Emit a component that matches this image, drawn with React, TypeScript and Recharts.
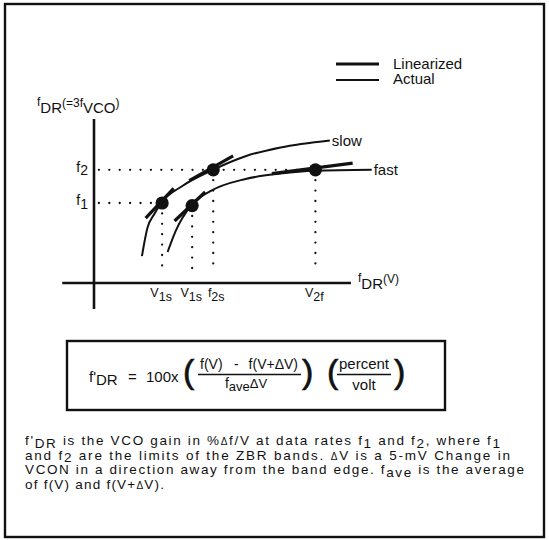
import type { ReactElement } from 'react';
import {
  ComposedChart,
  Line,
  ReferenceDot,
  ReferenceLine,
  Scatter,
  XAxis,
  YAxis,
} from 'recharts';

// Actual transfer curves (control voltage, data rate)
const slowCurve = [
  { x: 1.66, y: 1.34 },
  { x: 1.85, y: 2.75 },
  { x: 2.09, y: 3.45 },
  { x: 2.31, y: 3.97 },
  { x: 3.06, y: 4.85 },
  { x: 4.12, y: 5.66 },
  { x: 5.25, y: 6.34 },
  { x: 6.46, y: 6.78 },
  { x: 8.17, y: 7.13 },
];

const fastCurve = [
  { x: 2.55, y: 1.55 },
  { x: 2.82, y: 2.57 },
  { x: 3.36, y: 3.87 },
  { x: 4.03, y: 4.59 },
  { x: 5.25, y: 5.2 },
  { x: 6.46, y: 5.47 },
  { x: 7.64, y: 5.61 },
  { x: 9.62, y: 5.66 },
];

// Linearized segments at each band edge
const slowTangentLow = [
  { x: 1.79, y: 3.24 },
  { x: 2.76, y: 4.73 },
];
const slowTangentHigh = [
  { x: 3.3, y: 5.12 },
  { x: 4.82, y: 6.36 },
];
const fastTangentLow = [
  { x: 2.79, y: 3.1 },
  { x: 3.85, y: 4.55 },
];
const fastTangentHigh = [
  { x: 6.16, y: 5.47 },
  { x: 8.96, y: 5.99 },
];
const tangents = [slowTangentLow, slowTangentHigh, fastTangentLow, fastTangentHigh];

const operatingPoints = [
  { x: 2.36, y: 4.0 },
  { x: 3.4, y: 3.87 },
  { x: 4.13, y: 5.66 },
  { x: 7.67, y: 5.66 },
];

const vTickValues = [2.36, 3.4, 4.13, 7.67];
const vTickLabels = [
  ['V', '1s'],
  ['V', '1s'],
  ['f', '2s'],
  ['V', '2f'],
];
const fTickValues = [4.0, 5.66];
const fTickLabels = [
  ['f', '1'],
  ['f', '2'],
];

const curveNames = ['slow', 'fast'];
const legendLabels = ['Linearized', 'Actual'];

const xAxisSpan = [-1.1, 8.9];
const yAxisSpan = [-1.3, 8.2];
const guideStart = 0.17;
const guideFloor = 0.5;

const FONT = "'Liberation Sans', Arial, Helvetica, sans-serif";
const INK = '#111';

function VTick(props: any): ReactElement {
  const i = vTickValues.indexOf(Number(props.payload?.value));
  const [main, sub] = vTickLabels[i] ?? ['', ''];
  // the f-label sits just right of its guide in the drawing
  const shift = main === 'f' ? 3 : -1;
  return (
    <text
      x={props.x + shift}
      y={props.y}
      textAnchor="middle"
      fontFamily={FONT}
      fontSize={12.5}
      fill={INK}
    >
      <tspan>{main}</tspan>
      <tspan dy={4.5}>{sub}</tspan>
    </text>
  );
}

function FTick(props: any): ReactElement {
  const i = fTickValues.indexOf(Number(props.payload?.value));
  const [main, sub] = fTickLabels[i] ?? ['', ''];
  return (
    <text x={props.x} y={props.y + 2} textAnchor="end" fontFamily={FONT} fontSize={14} fill={INK}>
      <tspan>{main}</tspan>
      <tspan dy={3.5}>{sub}</tspan>
    </text>
  );
}

function Dot(props: any): ReactElement {
  return <circle cx={props.cx} cy={props.cy} r={6.6} fill={INK} />;
}

const dotted = {
  stroke: INK,
  strokeWidth: 2.3,
  strokeDasharray: '0 10.4',
  strokeLinecap: 'round' as const,
  ifOverflow: 'visible' as const,
};

const parenStyle = { fontSize: 34, stroke: INK, strokeWidth: 0.7 };

function Overlay(): ReactElement {
  return (
    <svg
      width={549}
      height={540}
      style={{ position: 'absolute', left: 0, top: 0, pointerEvents: 'none' }}
      fontFamily={FONT}
      fill={INK}
    >
      <rect x={5} y={4} width={539} height={533} fill="none" stroke={INK} strokeWidth={2.4} />

      {/* legend */}
      <line x1={336} x2={379} y1={64} y2={64} stroke={INK} strokeWidth={3.2} />
      <line x1={336} x2={379} y1={80} y2={80} stroke={INK} strokeWidth={2} />
      <text x={393} y={69} fontSize={15}>{legendLabels[0]}</text>
      <text x={393} y={84} fontSize={15}>{legendLabels[1]}</text>

      {/* axis titles */}
      <text x={37} y={106}>
        <tspan fontSize={12}>f</tspan>
        <tspan fontSize={15} dy={6.5}>DR</tspan>
        <tspan fontSize={12} dy={-5.5}>(=3f</tspan>
        <tspan fontSize={15} dy={5.5}>VCO</tspan>
        <tspan fontSize={12} dy={-5.5}>)</tspan>
      </text>
      <text x={358} y={282}>
        <tspan fontSize={12}>f</tspan>
        <tspan fontSize={15} dy={6.5}>DR</tspan>
        <tspan fontSize={12} dy={-6}>(V)</tspan>
      </text>

      {/* formula box */}
      <rect x={67} y={341} width={378} height={69} fill="none" stroke={INK} strokeWidth={2.4} />
      <text x={89} y={382} fontSize={15}>
        <tspan>f'</tspan>
        <tspan dy={3}>DR</tspan>
      </text>
      <text x={128} y={382} fontSize={15}>=</text>
      <text x={146} y={382} fontSize={15}>100x</text>
      <text x={183} y={383} {...parenStyle}>(</text>
      <text x={200} y={369} fontSize={14}>f(V)</text>
      <text x={234} y={369} fontSize={14}>-</text>
      <text x={298} y={369} fontSize={14} textAnchor="end">f(V+ΔV)</text>
      <line x1={198} x2={301} y1={374.5} y2={374.5} stroke={INK} strokeWidth={1.5} />
      <text x={246} y={388} fontSize={14} textAnchor="middle">
        <tspan>f</tspan>
        <tspan dy={3} fontSize={13}>ave</tspan>
        <tspan dy={-3} fontSize={13}>ΔV</tspan>
      </text>
      <text x={302} y={383} {...parenStyle}>)</text>
      <text x={327} y={383} {...parenStyle}>(</text>
      <text x={364} y={369} fontSize={15} textAnchor="middle">percent</text>
      <line x1={337} x2={391} y1={374.5} y2={374.5} stroke={INK} strokeWidth={1.5} />
      <text x={364} y={390} fontSize={15} textAnchor="middle">volt</text>
      <text x={394} y={383} {...parenStyle}>)</text>

      {/* caption */}
      <g fontSize={13.5} style={{ whiteSpace: 'pre' }}>
        <text x={25} y={445} textLength={475} lengthAdjust="spacing">
          <tspan>f'</tspan>
          <tspan dy={2.5}>DR</tspan>
          <tspan dy={-2.5}> is the VCO gain in %</tspan>
          <tspan fontSize={10}>Δ</tspan>
          <tspan>f/V at data rates f</tspan>
          <tspan dy={2.5}>1</tspan>
          <tspan dy={-2.5}> and f</tspan>
          <tspan dy={2.5}>2</tspan>
          <tspan dy={-2.5}>, where f</tspan>
          <tspan dy={2.5}>1</tspan>
        </text>
        <text x={25} y={459.5} textLength={485} lengthAdjust="spacing">
          <tspan>and f</tspan>
          <tspan dy={2.5}>2</tspan>
          <tspan dy={-2.5}> are the limits of the ZBR bands.  </tspan>
          <tspan fontSize={10}>Δ</tspan>
          <tspan>V is a 5-mV Change in</tspan>
        </text>
        <text x={25} y={474} textLength={499} lengthAdjust="spacing">
          <tspan>VCON in a direction away from the band edge.  f</tspan>
          <tspan dy={2.5}>ave</tspan>
          <tspan dy={-2.5}> is the average</tspan>
        </text>
        <text x={25} y={488.5} textLength={139} lengthAdjust="spacing">
          <tspan>of f(V) and f(V+</tspan>
          <tspan fontSize={10}>Δ</tspan>
          <tspan>V).</tspan>
        </text>
      </g>
    </svg>
  );
}

export default function App(): ReactElement {
  const lastSlow = slowCurve[slowCurve.length - 1];
  const lastFast = fastCurve[fastCurve.length - 1];

  return (
    <div style={{ position: 'absolute', left: 0, top: 0, width: 549, height: 540, background: '#fff' }}>
      <ComposedChart width={549} height={540} margin={{ top: 119, right: 149, bottom: 237, left: 74 }}>
        <XAxis
          type="number"
          dataKey="x"
          domain={[0, 10.6]}
          allowDataOverflow
          ticks={vTickValues}
          interval={0}
          height={20}
          axisLine={false}
          tickLine={false}
          tickSize={0}
          tickMargin={13.5}
          tick={(props: any) => <VTick {...props} />}
        />
        <YAxis
          type="number"
          dataKey="y"
          domain={[0, 8.2]}
          allowDataOverflow
          ticks={fTickValues}
          interval={0}
          width={20}
          axisLine={false}
          tickLine={false}
          tickSize={0}
          tickMargin={6}
          tick={(props: any) => <FTick {...props} />}
        />

        <ReferenceLine
          segment={[
            { x: xAxisSpan[0], y: 0 },
            { x: xAxisSpan[1], y: 0 },
          ]}
          stroke={INK}
          strokeWidth={2.6}
          ifOverflow="visible"
        />
        <ReferenceLine
          segment={[
            { x: 0, y: yAxisSpan[0] },
            { x: 0, y: yAxisSpan[1] },
          ]}
          stroke={INK}
          strokeWidth={2.6}
          ifOverflow="visible"
        />

        {/* dotted guides to the band edges */}
        <ReferenceLine
          segment={[
            { x: guideStart, y: fTickValues[0] },
            { x: operatingPoints[0].x, y: fTickValues[0] },
          ]}
          {...dotted}
        />
        <ReferenceLine
          segment={[
            { x: guideStart, y: fTickValues[1] },
            { x: operatingPoints[3].x, y: fTickValues[1] },
          ]}
          {...dotted}
        />
        {operatingPoints.map((p, i) => (
          <ReferenceLine
            key={`v${i}`}
            segment={[
              { x: vTickValues[i], y: p.y },
              { x: vTickValues[i], y: guideFloor },
            ]}
            {...dotted}
          />
        ))}

        <Line
          data={slowCurve}
          dataKey="y"
          type="monotone"
          stroke={INK}
          strokeWidth={2}
          dot={false}
          activeDot={false}
          isAnimationActive={false}
        />
        <Line
          data={fastCurve}
          dataKey="y"
          type="monotone"
          stroke={INK}
          strokeWidth={2}
          dot={false}
          activeDot={false}
          isAnimationActive={false}
        />
        {tangents.map((seg, i) => (
          <Line
            key={`t${i}`}
            data={seg}
            dataKey="y"
            type="linear"
            stroke={INK}
            strokeWidth={3.2}
            dot={false}
            activeDot={false}
            isAnimationActive={false}
          />
        ))}
        <Scatter data={operatingPoints} dataKey="y" fill={INK} shape={<Dot />} isAnimationActive={false} />

        <ReferenceDot
          x={lastSlow.x}
          y={lastSlow.y}
          r={0}
          ifOverflow="visible"
          label={{ value: curveNames[0], position: 'right', offset: 2, fill: INK, fontSize: 15, fontFamily: FONT }}
        />
        <ReferenceDot
          x={lastFast.x}
          y={lastFast.y}
          r={0}
          ifOverflow="visible"
          label={{ value: curveNames[1], position: 'right', offset: 2, fill: INK, fontSize: 15, fontFamily: FONT }}
        />
      </ComposedChart>
      <Overlay />
    </div>
  );
}
